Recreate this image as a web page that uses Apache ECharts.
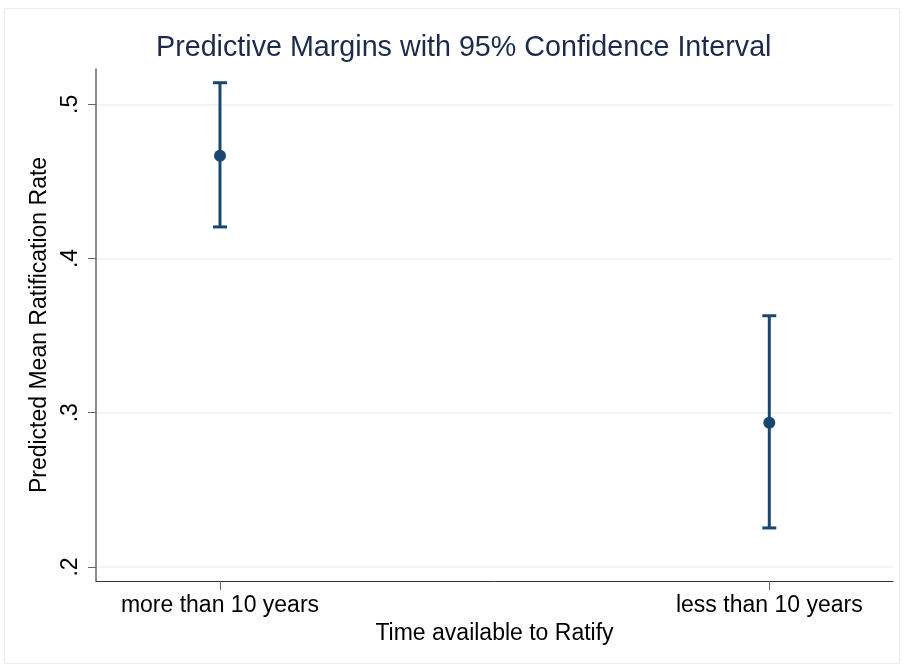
<!DOCTYPE html>
<html><head><meta charset="utf-8">
<script src="https://cdn.jsdelivr.net/npm/echarts@6/dist/echarts.min.js"></script>
<style>html,body{margin:0;padding:0;background:#fff}#c{width:904px;height:666px}</style>
</head><body><div id="c"></div>
<script>
const categories = ['more than 10 years', 'less than 10 years'];
const margins = [0.4667, 0.2935];
const lowerCI = [0.4205, 0.2253];
const upperCI = [0.5140, 0.3629];
const yTicks = [0.2, 0.3, 0.4, 0.5];
const yTickLabels = ['.2', '.3', '.4', '.5'];
const xTicks = [0, 1];

const navy = '#1a476f';
const chart = echarts.init(document.getElementById('c'), null, {renderer: 'canvas'});
const ciData = categories.map((c, i) => [i, lowerCI[i], upperCI[i]]);
const ptData = categories.map((c, i) => [i, margins[i]]);
const font = 'Liberation Sans, Arial, sans-serif';

chart.setOption({
  animation: false,
  backgroundColor: '#fff',
  title: {
    text: 'Predictive Margins with 95% Confidence Interval',
    left: 151, top: 29,
    textStyle: {fontFamily: font, fontSize: 28.7, fontWeight: 'normal', color: '#1c2b4b'}
  },
  graphic: [{type: 'rect', shape: {x: 4.5, y: 8.5, width: 895, height: 655}, style: {fill: 'none', stroke: '#e8eef0', lineWidth: 1}, silent: true, z: -10}],
  grid: {left: 96, right: 11, top: 69, bottom: 85, containLabel: false},
  xAxis: {
    type: 'value', min: -0.2257, max: 1.2252,
    name: 'Time available to Ratify', nameLocation: 'middle', nameGap: 40,
    nameTextStyle: {fontFamily: font, fontSize: 23, color: '#000'},
    axisLine: {show: true, onZero: false, lineStyle: {color: '#333', width: 1}},
    axisTick: {show: true, inside: false, length: 9, lineStyle: {color: '#666', width: 1}, customValues: xTicks},
    minorTick: {show: false},
    axisLabel: {customValues: xTicks, formatter: v => categories[Math.round(v)], fontFamily: font, fontSize: 23, color: '#000', margin: 13},
    splitLine: {show: false}
  },
  yAxis: {
    type: 'value', min: 0.1909, max: 0.5229,
    name: 'Predicted Mean Ratification Rate', nameLocation: 'middle', nameGap: 37,
    nameTextStyle: {fontFamily: font, fontSize: 23, color: '#000'},
    axisLine: {show: true, onZero: false, lineStyle: {color: '#666', width: 1.5}},
    axisTick: {show: true, length: 8, lineStyle: {color: '#666', width: 1}, customValues: yTicks},
    axisLabel: {customValues: yTicks, rotate: 90, formatter: v => yTickLabels[yTicks.findIndex(t => Math.abs(t - v) < 1e-6)] || '', fontFamily: font, fontSize: 23, color: '#000', margin: 14},
    splitLine: {show: true, lineStyle: {color: '#eaf2f3', width: 1.5}}
  },
  series: [
    {
      type: 'custom',
      data: ciData,
      renderItem: function (params, api) {
        const x = api.value(0);
        const lo = api.coord([x, api.value(1)]);
        const hi = api.coord([x, api.value(2)]);
        const hw = 7;
        const st = {stroke: navy, lineWidth: 3};
        return {type: 'group', children: [
          {type: 'line', shape: {x1: lo[0], y1: lo[1], x2: hi[0], y2: hi[1]}, style: st},
          {type: 'line', shape: {x1: lo[0] - hw, y1: lo[1], x2: lo[0] + hw, y2: lo[1]}, style: st},
          {type: 'line', shape: {x1: hi[0] - hw, y1: hi[1], x2: hi[0] + hw, y2: hi[1]}, style: st}
        ]};
      },
      z: 2
    },
    {
      type: 'scatter', data: ptData, symbol: 'circle', symbolSize: 12,
      itemStyle: {color: navy, opacity: 1}, z: 3
    }
  ]
});
</script></body></html>
